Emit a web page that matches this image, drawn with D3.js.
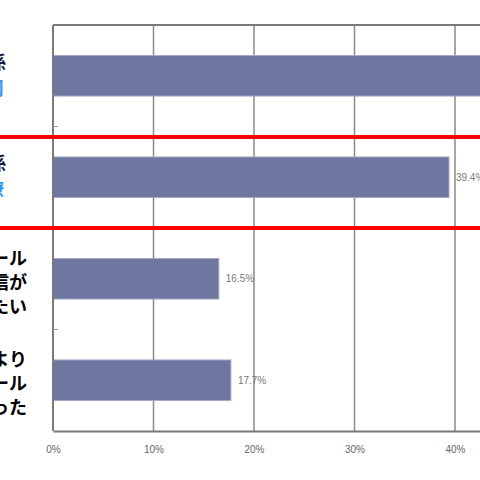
<!DOCTYPE html>
<html>
<head>
<meta charset="utf-8">
<script src="https://cdn.jsdelivr.net/npm/d3@7"></script>
<style>
  html, body { margin: 0; padding: 0; background: #fff; }
  svg { display: block; }
</style>
</head>
<body>
<svg id="chart" width="480" height="480"></svg>
<script>
// ---- data ----
const categories = ["c1", "c2", "c3", "c4"];
const values = [46.0, 39.4, 16.5, 17.7];
const labelLinesBlack = [["職場の人間関係"], ["仕事上の関係"], ["メール", "返信が", "したい"], ["電話より", "メール", "が良かった"]];
const labelLinesBlue = [["上司"], ["同僚"], [], []];
const tickValues = [0, 10, 20, 30, 40];
const tickLabels = ["0%", "10%", "20%", "30%", "40%"];

// ---- layout ----
const svg = d3.select("#chart");
const plotLeft = 53, plotTop = 25, plotBottom = 431, plotRight = 555.5;

const x = d3.scaleLinear().domain([0, 50]).range([plotLeft, plotRight]);
const y = d3.scaleBand().domain(categories).range([plotTop, plotBottom]).paddingInner(0.6).paddingOuter(0.3);
const step = y.step();

// gridlines
svg.append("g").selectAll("line").data(tickValues.slice(1)).join("line")
  .attr("x1", d => x(d)).attr("x2", d => x(d))
  .attr("y1", plotTop).attr("y2", plotBottom)
  .attr("stroke", "#8a8a8a").attr("stroke-width", 1.5);

// top border
svg.append("line").attr("x1", plotLeft).attr("x2", 480).attr("y1", plotTop).attr("y2", plotTop)
  .attr("stroke", "#7a7a7a").attr("stroke-width", 2);

// bars
svg.append("g").selectAll("rect").data(values).join("rect")
  .attr("x", x(0))
  .attr("y", (d, i) => y(categories[i]))
  .attr("width", d => x(d) - x(0))
  .attr("height", y.bandwidth())
  .attr("fill", "#6e77a0")
  .attr("stroke", "#a3a8c6").attr("stroke-width", 1);

// value labels (first one lies beyond the cropped right edge)
svg.append("g").selectAll("text").data(values).join("text")
  .attr("x", d => x(d) + 7)
  .attr("y", (d, i) => y(categories[i]) + y.bandwidth() / 2 + 3.5)
  .attr("font-family", "Liberation Sans, Arial, sans-serif")
  .attr("font-size", 10)
  .attr("fill", "#777")
  .text(d => d.toFixed(1) + "%");

// left axis with boundary ticks
svg.append("line").attr("x1", plotLeft).attr("x2", plotLeft).attr("y1", plotTop).attr("y2", plotBottom)
  .attr("stroke", "#7a7a7a").attr("stroke-width", 2);
svg.append("g").selectAll("line").data(categories.slice(1)).join("line")
  .attr("x1", plotLeft).attr("x2", plotLeft + 5)
  .attr("y1", d => y(d) - step * y.paddingInner() / 2)
  .attr("y2", d => y(d) - step * y.paddingInner() / 2)
  .attr("stroke", "#9a9a9a").attr("stroke-width", 1);

// bottom axis
const xAxis = d3.axisBottom(x).tickValues(tickValues).tickFormat((d, i) => tickLabels[i]).tickSize(0).tickPadding(15);
const gx = svg.append("g").attr("transform", `translate(0,${plotBottom})`).call(xAxis);
gx.select(".domain").attr("stroke", "#7a7a7a").attr("stroke-width", 2);
gx.selectAll("text").attr("font-family", "Liberation Sans, Arial, sans-serif")
  .attr("font-size", 10).attr("fill", "#666");

// category labels (cropped at left edge)
const lab = svg.append("g").attr("font-family", "Noto Sans CJK JP, sans-serif").attr("font-weight", "bold");
categories.forEach((c, i) => {
  const cy = y(c) + y.bandwidth() / 2;
  if (i < 2) {
    lab.append("text").attr("x", 6).attr("y", cy - 7).attr("text-anchor", "end")
      .attr("font-size", 18).attr("fill", "#1a1a3a").text(labelLinesBlack[i][0]);
    lab.append("text").attr("x", 4).attr("y", cy + 19).attr("text-anchor", "end")
      .attr("font-size", 18).attr("fill", "#3399ee").text(labelLinesBlue[i][0]);
  } else {
    const lines = labelLinesBlack[i];
    lines.forEach((t, k) => {
      lab.append("text").attr("x", 27).attr("y", cy + 10 + (k - 1) * 24)
        .attr("text-anchor", "end").attr("font-size", 18).attr("fill", "#000").text(t);
    });
  }
});

// red annotation lines
[137, 228].forEach(yy => {
  svg.append("line").attr("x1", 0).attr("x2", 480).attr("y1", yy).attr("y2", yy)
    .attr("stroke", "#ff0000").attr("stroke-width", 4);
});
</script>
</body>
</html>
